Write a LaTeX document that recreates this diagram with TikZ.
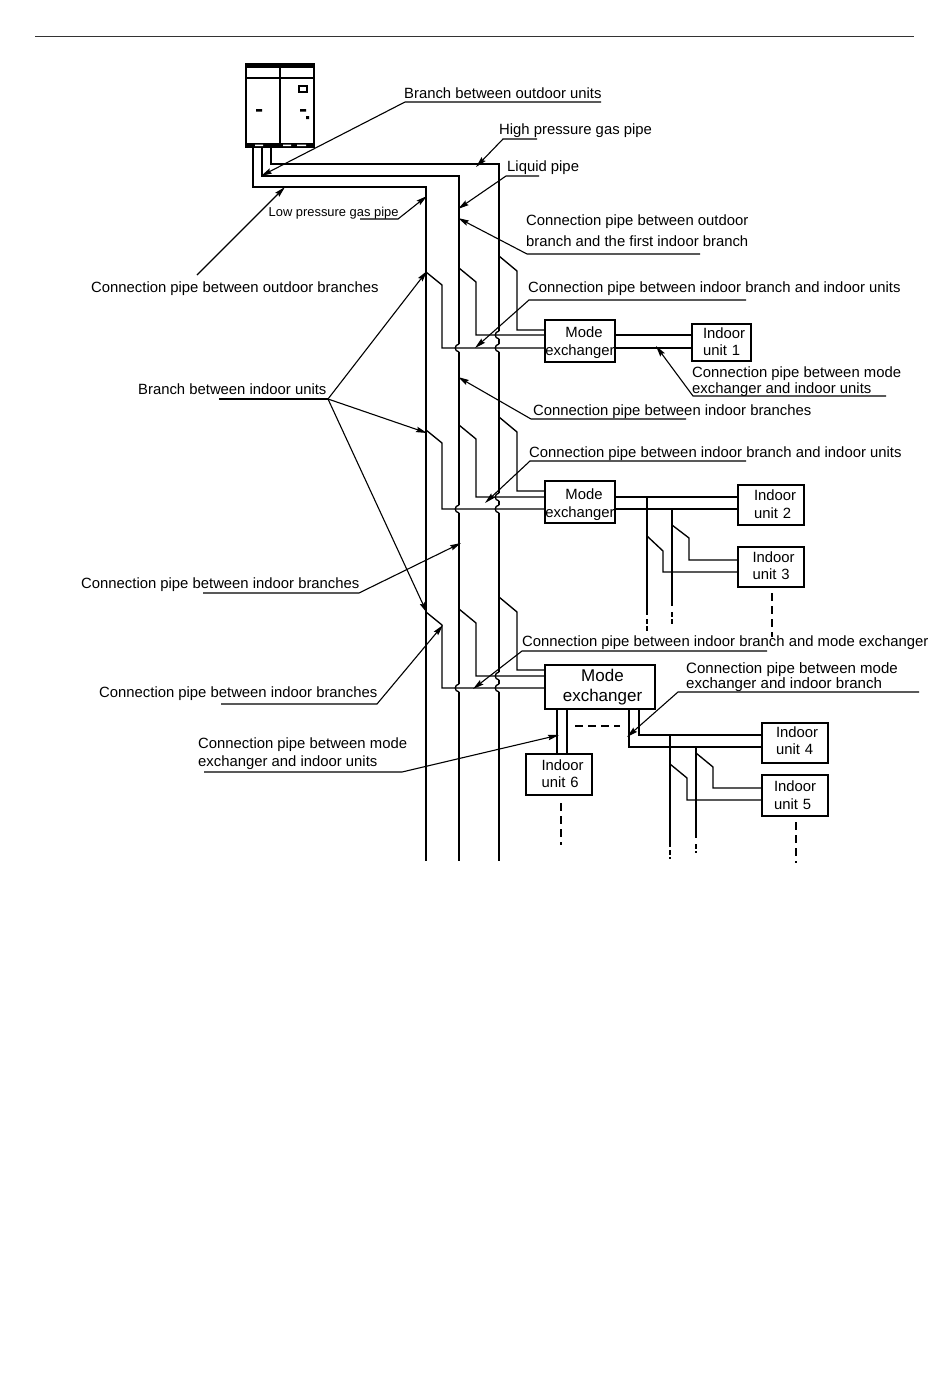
\documentclass[tikz,border=0pt]{standalone}
\usepackage{fontspec}
\setmainfont{Liberation Sans}
\usetikzlibrary{arrows.meta,positioning}
\newcommand{\lblsize}[1]{\fontsize{14.85}{#1}\selectfont}
% extra depth under the last line of a box text
\newcommand{\dn}[1]{\rule[-#1pt]{0pt}{#1pt}}
% little jog of a main pipe where a branch line crosses it
\newcommand{\pipehop}[2]{%
  \draw[white, line width=2.4pt] (#1,#2-4) -- (#1,#2+4);
  \draw[pipe] (#1,#2-4) .. controls (#1-5,#2-3) and (#1-5,#2+3) .. (#1,#2+4);
}
\begin{document}
\begin{tikzpicture}[
    x=1pt, y=-1pt,
    pipe/.style={line width=1.35pt, black},
    stub/.style={line width=1.2pt, dash pattern=on 8pt off 5pt},
    shortstub/.style={line width=1.2pt, dash pattern=on 5pt off 2pt},
    leader/.style={line width=1.1pt, -{Stealth[length=11pt,width=5.5pt,inset=1.5pt]}},
    lbl/.style={anchor=base west, inner sep=0pt, font=\lblsize{17}},
    twolbl/.style={anchor=west, inner sep=0pt, align=left},
    modebox/.style={draw, line width=1.2pt, inner sep=0pt, align=center, font=\lblsize{18.3}},
    unitbox/.style={draw, line width=1.2pt, inner xsep=0pt, inner ysep=0pt, align=left, font=\lblsize{17.5},
        text width=#1},
    unitbox/.default=66pt
]
\useasboundingbox (0,0) rectangle (950,1397);
\draw[line width=0.9pt, black!80] (35,36) -- (914,36);

% outdoor unit
\draw[line width=2pt] (246,65) rectangle (314,147);
\draw[line width=1.5pt] (280,65) -- (280,147);
\draw[line width=1.5pt] (246,78) -- (314,78);
\fill (245,63) rectangle (315,68);
\fill (245,143) rectangle (315,148);
\fill[white] (255,144.5) rectangle (263,146) (283,144.5) rectangle (291,146) (297,144.5) rectangle (306,146);
\fill (256,109) rectangle (262,111.5) (300,109) rectangle (306,111.5) (306,116) rectangle (309,119);
\draw[line width=1.2pt] (299,86) rectangle (307,92);
\coordinate (outlow) at (253,147);
\coordinate (outliq) at (262,147);
\coordinate (outhigh) at (271,147);

% mains
\coordinate (endlow) at (426,861);
\coordinate (endliq) at (459,861);
\coordinate (endhigh) at (499,861);
\draw[pipe] (outlow) |- (426,187) -- (endlow);
\draw[pipe] (outliq) |- (459,176) -- (endliq);
\draw[pipe] (outhigh) |- (499,164) -- (endhigh);

% boxes
\node[modebox, minimum width=70pt, minimum height=42pt] (mode1) at (580,341) {\rule{0pt}{14.5pt}\hspace*{8pt}Mode\\exchanger};
\node[modebox, minimum width=70pt, minimum height=42pt] (mode2) at (580,502) {\rule{0pt}{15.5pt}\hspace*{8pt}Mode\\exchanger};
\node[modebox, minimum width=110pt, minimum height=44pt, font=\fontsize{17}{20}\selectfont] (mode3) at (600,687) {\hspace*{5pt}Mode\\\hspace*{5pt}exchanger};
\node[unitbox=59pt, minimum height=37pt, execute at begin node={\leftskip=11pt}] (unit1) at (721.5,342.5) {Indoor\\unit 1\dn{2}};
\node[unitbox, minimum height=40pt, execute at begin node={\leftskip=16pt}] (unit2) at (771,505) {Indoor\\unit 2\dn{2}};
\node[unitbox, minimum height=40pt, execute at begin node={\leftskip=14.5pt}] (unit3) at (771,567) {Indoor\\unit 3\dn{3}};
\node[unitbox, minimum height=40pt, execute at begin node={\leftskip=14pt}] (unit4) at (795,743) {Indoor\\unit 4\dn{5}};
\node[unitbox, minimum height=41pt, execute at begin node={\leftskip=12pt}] (unit5) at (795,795.5) {Indoor\\unit 5\dn{1}};
\node[unitbox, minimum height=41pt, execute at begin node={\leftskip=15.5pt}] (unit6) at (559,774.5) {Indoor\\unit 6\dn{2}};

% crossings
\foreach \y in {348,509,688} {
    \pipehop{459}{\y}
    \pipehop{499}{\y}
}
\foreach \y in {335,497,676} {
    \pipehop{499}{\y}
}

% branches from the mains to the mode exchangers
\foreach \mx/\ya/\yb/\yc/\yd/\ye/\yf in {mode1/272/348/268/335/256/330, mode2/430/509/425/497/417/491, mode3/612/688/609/676/597/670} {
    \coordinate (a) at (\mx.west |- 0,\yb);
    \coordinate (b) at (\mx.west |- 0,\yd);
    \coordinate (c) at (\mx.west |- 0,\yf);
    \draw[pipe] (426,\ya) -- ++(16,13) |- (a);
    \draw[pipe] (459,\yc) -- ++(17,14) |- (b);
    \draw[pipe] (499,\ye) -- ++(18,15) |- (c);
}

% mode exchanger to indoor units
\draw[pipe] (mode1.east |- 0,335) -- (unit1.west |- 0,335);
\draw[pipe] (mode1.east |- 0,348) -- (unit1.west |- 0,348);
\draw[pipe] (mode2.east |- 0,497) -- (unit2.west |- 0,497);
\draw[pipe] (mode2.east |- 0,509) -- (unit2.west |- 0,509);
\draw[pipe] (647,497) -- (647,615);
\draw[pipe] (672,509) -- (672,606);
\draw[shortstub] (647,619) -- (647,631);
\draw[shortstub] (672,612) -- (672,624);
\draw[pipe] (647,536) -- (663,551) |- (unit3.west |- 0,572);
\draw[pipe] (672,525) -- (689,538) |- (unit3.west |- 0,560);
\draw[stub] (772,593) -- (772,637);

\draw[pipe] (557,709) -- (unit6.north -| 557,0);
\draw[pipe] (567,709) -- (unit6.north -| 567,0);
\draw[stub] (561,803) -- (561,845);
\draw[stub] (575,726) -- (620,726);
\draw[pipe] (629,709) |- (unit4.west |- 0,747);
\draw[pipe] (639,709) |- (unit4.west |- 0,735);
\draw[pipe] (670,735) -- (670,847);
\draw[pipe] (696,747) -- (696,838);
\draw[shortstub] (670,850) -- (670,859);
\draw[shortstub] (696,844) -- (696,853);
\draw[pipe] (670,764) -- (687,778) |- (unit5.west |- 0,800);
\draw[pipe] (696,753) -- (713,767) |- (unit5.west |- 0,788);
\draw[stub] (796,822) -- (796,863);

% labels
\node[lbl] (brout) at (404,98) {Branch between outdoor units};
\node[lbl] (highgas) at (499,134) {High pressure gas pipe};
\node[lbl] (liquid) at (507,171) {Liquid pipe};
\node[lbl, font=\fontsize{12.9}{14}\selectfont] (lowgas) at (268.5,216) {Low pressure gas pipe};
\node[twolbl, font=\lblsize{21}] (conout) at (526,230.5) {Connection pipe between outdoor\\branch and the first indoor branch};
\node[lbl] (conoutbr) at (91,292) {Connection pipe between outdoor branches};
\node[lbl] (conunit1) at (528,292) {Connection pipe between indoor branch and indoor units};
\node[twolbl, font=\lblsize{16}] (conmode1) at (692,382) {Connection pipe between mode\\exchanger and indoor units};
\node[lbl] (brin) at (138,394) {Branch between indoor units};
\node[lbl] (conin1) at (533,415) {Connection pipe between indoor branches};
\node[lbl] (conunit2) at (529,457) {Connection pipe between indoor branch and indoor units};
\node[lbl] (conin2) at (81,588) {Connection pipe between indoor branches};
\node[lbl] (conmodebr) at (522,646) {Connection pipe between indoor branch and mode exchanger};
\node[twolbl, font=\fontsize{15.05}{14}\selectfont] (conmode2) at (686,677) {Connection pipe between mode\\exchanger and indoor branch};
\node[lbl] (conin3) at (99,697) {Connection pipe between indoor branches};
\node[twolbl, font=\lblsize{18}] (conmode3) at (198,754) {Connection pipe between mode\\exchanger and indoor units};

% arrow tips
\coordinate (tipbrout) at (261,176);
\coordinate (tiphigh) at (476,167);
\coordinate (tipliq) at (458,209);
\coordinate (tiplow) at (427,196);
\coordinate (tipconout) at (458,218);
\coordinate (tipoutbr) at (285,187);
\coordinate (tipunit1) at (475,348);
\coordinate (tipmode1) at (656,346);
\coordinate (tipin1) at (458,377);
\coordinate (tipunit2) at (485,503);
\coordinate (tipin2) at (461,543);
\coordinate (tipmodebr) at (473,689);
\coordinate (tipmode2) at (627,737);
\coordinate (tipin3) at (443,625);
\coordinate (tipmode3) at (559,735);
\coordinate (tipbr1) at (427,271);
\coordinate (tipbr2) at (427,433);
\coordinate (tipbr3) at (427,613);

% leaders
\draw[leader] (601,102) -- (405,102) -- (tipbrout);
\draw[leader] (537,139) -- (503,139) -- (tiphigh);
\draw[leader] (539,176) -- (506,176) -- (tipliq);
\draw[leader] (360,219) -- (398,219) -- (tiplow);
\draw[leader] (700,254) -- (527,254) -- (tipconout);
\draw[leader] (197,275) -- (tipoutbr);
\draw[leader] (746,300) -- (529,300) -- (tipunit1);
\draw[leader] (886,396) -- (693,396) -- (tipmode1);
\draw[leader] (686,419) -- (531,419) -- (tipin1);
\draw[leader] (746,461) -- (530,461) -- (tipunit2);
\draw[leader] (203,593) -- (359,593) -- (tipin2);
\draw[leader] (767,651) -- (522,651) -- (tipmodebr);
\draw[leader] (919,692) -- (678,692) -- (tipmode2);
\draw[leader] (221,704) -- (377,704) -- (tipin3);
\draw[leader] (204,772) -- (402,772) -- (tipmode3);
\draw[line width=1.1pt] (219,399) -- (328,399);
\draw[leader] (328,399) -- (tipbr1);
\draw[leader] (328,399) -- (tipbr2);
\draw[leader] (328,399) -- (tipbr3);
\end{tikzpicture}
\end{document}
